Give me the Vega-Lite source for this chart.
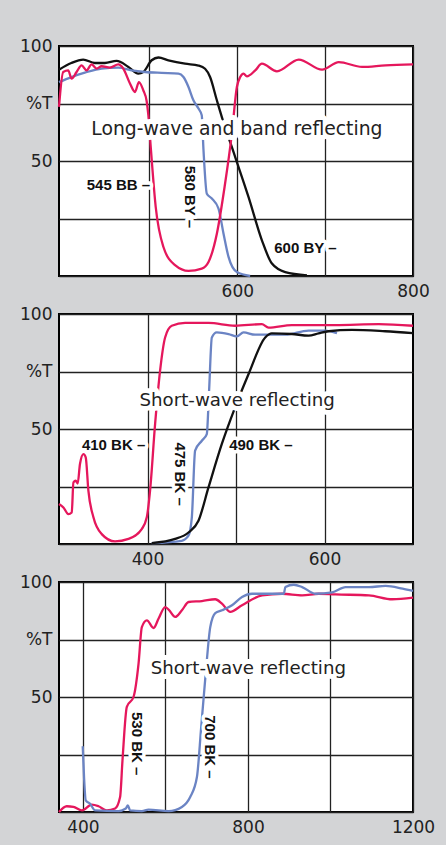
{
  "$schema": "https://vega.github.io/schema/vega-lite/v6.json",
  "background": "#d3d4d6",
  "padding": {"left": 18, "top": 36, "right": 19, "bottom": 9},
  "spacing": 38,
  "bounds": "flush",
  "config": {
    "view": {"stroke": "#000", "strokeWidth": 2, "fill": "white"},
    "axis": {"grid": true, "gridColor": "#222", "gridWidth": 1.3, "gridOpacity": 1, "domain": false, "ticks": false, "labelFont": "DejaVu Sans", "labelFontSize": 17, "labelColor": "#222", "labelPadding": 7, "title": null, "format": "d"},
    "axisX": {"labelFlush": false, "labelOverlap": false},
    "axisY": {"labelOverlap": false},
    "line": {"strokeWidth": 2.3, "interpolate": "monotone"}
  },
  "datasets": {
    "p1": [
      {"nm": 397, "t": 89.7, "s": "600 BY"}, {"nm": 411, "t": 92.6, "s": "600 BY"}, {"nm": 424.6, "t": 94.1, "s": "600 BY"}, {"nm": 437.8, "t": 92.6, "s": "600 BY"}, {"nm": 449.2, "t": 92.6, "s": "600 BY"}, {"nm": 462.6, "t": 93.5, "s": "600 BY"}, {"nm": 476, "t": 90.9, "s": "600 BY"}, {"nm": 487.3, "t": 88, "s": "600 BY"}, {"nm": 493, "t": 88.7, "s": "600 BY"}, {"nm": 502.5, "t": 93.8, "s": "600 BY"}, {"nm": 510.2, "t": 95, "s": "600 BY"}, {"nm": 521.5, "t": 93.8, "s": "600 BY"}, {"nm": 540.5, "t": 92.3, "s": "600 BY"}, {"nm": 555.8, "t": 91.5, "s": "600 BY"}, {"nm": 563.3, "t": 90.1, "s": "600 BY"}, {"nm": 569, "t": 86.5, "s": "600 BY"}, {"nm": 576.7, "t": 76.4, "s": "600 BY"}, {"nm": 582.4, "t": 69.1, "s": "600 BY"}, {"nm": 597.6, "t": 51.7, "s": "600 BY"}, {"nm": 612.8, "t": 34.3, "s": "600 BY"}, {"nm": 628, "t": 15.5, "s": "600 BY"}, {"nm": 639.4, "t": 5.4, "s": "600 BY"}, {"nm": 654.6, "t": 1.7, "s": "600 BY"}, {"nm": 679.3, "t": 0.3, "s": "600 BY"},
      {"nm": 397, "t": 84.3, "s": "580 BY"}, {"nm": 411, "t": 86.5, "s": "580 BY"}, {"nm": 426.4, "t": 88.4, "s": "580 BY"}, {"nm": 445.5, "t": 90.2, "s": "580 BY"}, {"nm": 464.5, "t": 90.6, "s": "580 BY"}, {"nm": 479.7, "t": 89.4, "s": "580 BY"}, {"nm": 494.9, "t": 88.7, "s": "580 BY"}, {"nm": 514, "t": 88.3, "s": "580 BY"}, {"nm": 533, "t": 88, "s": "580 BY"}, {"nm": 538.7, "t": 86.5, "s": "580 BY"}, {"nm": 544.4, "t": 82.2, "s": "580 BY"}, {"nm": 550, "t": 76.4, "s": "580 BY"}, {"nm": 555.8, "t": 72.8, "s": "580 BY"}, {"nm": 559.5, "t": 69.9, "s": "580 BY"}, {"nm": 561.5, "t": 54.7, "s": "580 BY"}, {"nm": 565.3, "t": 35.8, "s": "580 BY"}, {"nm": 571, "t": 33.7, "s": "580 BY"}, {"nm": 578.6, "t": 29.3, "s": "580 BY"}, {"nm": 584.3, "t": 18.4, "s": "580 BY"}, {"nm": 590, "t": 8.3, "s": "580 BY"}, {"nm": 599.5, "t": 1.7, "s": "580 BY"}, {"nm": 614.6, "t": 0, "s": "580 BY"},
      {"nm": 397, "t": 73.5, "s": "545 BB"}, {"nm": 401.8, "t": 88.7, "s": "545 BB"}, {"nm": 407.5, "t": 89.4, "s": "545 BB"}, {"nm": 411.3, "t": 85.8, "s": "545 BB"}, {"nm": 417, "t": 88.7, "s": "545 BB"}, {"nm": 422.7, "t": 91.6, "s": "545 BB"}, {"nm": 428.4, "t": 89.4, "s": "545 BB"}, {"nm": 434.1, "t": 92, "s": "545 BB"}, {"nm": 439.8, "t": 90.2, "s": "545 BB"}, {"nm": 445.5, "t": 91.2, "s": "545 BB"}, {"nm": 455, "t": 90.6, "s": "545 BB"}, {"nm": 464.5, "t": 92, "s": "545 BB"}, {"nm": 470.2, "t": 90.2, "s": "545 BB"}, {"nm": 477.8, "t": 83.7, "s": "545 BB"}, {"nm": 483.5, "t": 80, "s": "545 BB"}, {"nm": 488, "t": 84.3, "s": "545 BB"}, {"nm": 493, "t": 80.7, "s": "545 BB"}, {"nm": 496.8, "t": 76, "s": "545 BB"}, {"nm": 498.7, "t": 70, "s": "545 BB"}, {"nm": 501.7, "t": 54.7, "s": "545 BB"}, {"nm": 507.1, "t": 30, "s": "545 BB"}, {"nm": 515.9, "t": 12.6, "s": "545 BB"}, {"nm": 529.1, "t": 4.7, "s": "545 BB"}, {"nm": 544.4, "t": 2.2, "s": "545 BB"}, {"nm": 559.5, "t": 3.2, "s": "545 BB"}, {"nm": 567.2, "t": 6.1, "s": "545 BB"}, {"nm": 576.7, "t": 18.4, "s": "545 BB"}, {"nm": 585.5, "t": 38.7, "s": "545 BB"}, {"nm": 593.8, "t": 61.9, "s": "545 BB"}, {"nm": 599.5, "t": 82.2, "s": "545 BB"}, {"nm": 603.3, "t": 86.5, "s": "545 BB"}, {"nm": 607.1, "t": 88, "s": "545 BB"}, {"nm": 610.9, "t": 86.8, "s": "545 BB"}, {"nm": 620.4, "t": 89.4, "s": "545 BB"}, {"nm": 628, "t": 92.3, "s": "545 BB"}, {"nm": 645.1, "t": 89, "s": "545 BB"}, {"nm": 669.9, "t": 94.1, "s": "545 BB"}, {"nm": 696.5, "t": 89.7, "s": "545 BB"}, {"nm": 715.5, "t": 93, "s": "545 BB"}, {"nm": 742, "t": 90.9, "s": "545 BB"}, {"nm": 768.7, "t": 91.6, "s": "545 BB"}, {"nm": 800, "t": 92, "s": "545 BB"}
    ],
    "p2": [
      {"nm": 300, "t": 17.4, "s": "410 BK"}, {"nm": 305, "t": 15.9, "s": "410 BK"}, {"nm": 310.6, "t": 13.0, "s": "410 BK"}, {"nm": 314.4, "t": 13.7, "s": "410 BK"}, {"nm": 316.3, "t": 26.8, "s": "410 BK"}, {"nm": 318.9, "t": 27.5, "s": "410 BK"}, {"nm": 321.1, "t": 26.3, "s": "410 BK"}, {"nm": 323.7, "t": 34.8, "s": "410 BK"}, {"nm": 327.6, "t": 39.1, "s": "410 BK"}, {"nm": 330.2, "t": 37.7, "s": "410 BK"}, {"nm": 333.2, "t": 23.2, "s": "410 BK"}, {"nm": 338.9, "t": 11.6, "s": "410 BK"}, {"nm": 348.3, "t": 4.3, "s": "410 BK"}, {"nm": 363.3, "t": 1.1, "s": "410 BK"}, {"nm": 378.5, "t": 2.2, "s": "410 BK"}, {"nm": 393.5, "t": 6.5, "s": "410 BK"}, {"nm": 399.2, "t": 11.6, "s": "410 BK"}, {"nm": 402.9, "t": 23.2, "s": "410 BK"}, {"nm": 408.6, "t": 52.2, "s": "410 BK"}, {"nm": 414.2, "t": 75.3, "s": "410 BK"}, {"nm": 419.9, "t": 89.8, "s": "410 BK"}, {"nm": 427.4, "t": 94.9, "s": "410 BK"}, {"nm": 442.5, "t": 96.1, "s": "410 BK"}, {"nm": 468.9, "t": 96.1, "s": "410 BK"}, {"nm": 499, "t": 94.9, "s": "410 BK"}, {"nm": 529.2, "t": 95.6, "s": "410 BK"}, {"nm": 536.8, "t": 94.1, "s": "410 BK"}, {"nm": 563.2, "t": 95.2, "s": "410 BK"}, {"nm": 612.1, "t": 95.2, "s": "410 BK"}, {"nm": 661.2, "t": 95.6, "s": "410 BK"}, {"nm": 700, "t": 94.9, "s": "410 BK"},
      {"nm": 404.8, "t": 0.4, "s": "475 BK"}, {"nm": 438.7, "t": 1.4, "s": "475 BK"}, {"nm": 446.3, "t": 3.6, "s": "475 BK"}, {"nm": 450.1, "t": 11.6, "s": "475 BK"}, {"nm": 453.8, "t": 40.6, "s": "475 BK"}, {"nm": 461.4, "t": 44.9, "s": "475 BK"}, {"nm": 467, "t": 47.8, "s": "475 BK"}, {"nm": 469.6, "t": 66.7, "s": "475 BK"}, {"nm": 472.7, "t": 89.8, "s": "475 BK"}, {"nm": 478.3, "t": 92, "s": "475 BK"}, {"nm": 491.6, "t": 91.3, "s": "475 BK"}, {"nm": 501, "t": 90.3, "s": "475 BK"}, {"nm": 508.5, "t": 92, "s": "475 BK"}, {"nm": 521.6, "t": 91, "s": "475 BK"}, {"nm": 555.6, "t": 91, "s": "475 BK"}, {"nm": 582, "t": 92.8, "s": "475 BK"}, {"nm": 600.8, "t": 92.8, "s": "475 BK"}, {"nm": 614.1, "t": 91.7, "s": "475 BK"},
      {"nm": 404.8, "t": 0.4, "s": "490 BK"}, {"nm": 431.2, "t": 2.2, "s": "490 BK"}, {"nm": 446.3, "t": 5, "s": "490 BK"}, {"nm": 457.6, "t": 10.1, "s": "490 BK"}, {"nm": 468.9, "t": 24.6, "s": "490 BK"}, {"nm": 484, "t": 43.5, "s": "490 BK"}, {"nm": 499, "t": 59.4, "s": "490 BK"}, {"nm": 514.2, "t": 73.9, "s": "490 BK"}, {"nm": 533, "t": 89.8, "s": "490 BK"}, {"nm": 540.5, "t": 91.6, "s": "490 BK"}, {"nm": 563.2, "t": 91.3, "s": "490 BK"}, {"nm": 582, "t": 90.6, "s": "490 BK"}, {"nm": 593.3, "t": 91.6, "s": "490 BK"}, {"nm": 604.6, "t": 92.5, "s": "490 BK"}, {"nm": 631, "t": 93.1, "s": "490 BK"}, {"nm": 668.6, "t": 92.5, "s": "490 BK"}, {"nm": 700, "t": 91.7, "s": "490 BK"}
    ],
    "p3": [
      {"nm": 342, "t": 0, "s": "530 BK"}, {"nm": 360.7, "t": 2.5, "s": "530 BK"}, {"nm": 377, "t": 2.2, "s": "530 BK"}, {"nm": 397.1, "t": 0.7, "s": "530 BK"}, {"nm": 421.4, "t": 3.2, "s": "530 BK"}, {"nm": 437.7, "t": 2.5, "s": "530 BK"}, {"nm": 457.8, "t": 0.7, "s": "530 BK"}, {"nm": 478, "t": 1.5, "s": "530 BK"}, {"nm": 490.1, "t": 6.5, "s": "530 BK"}, {"nm": 495.9, "t": 22.5, "s": "530 BK"}, {"nm": 506.4, "t": 45.7, "s": "530 BK"}, {"nm": 522.6, "t": 50, "s": "530 BK"}, {"nm": 534.8, "t": 64.5, "s": "530 BK"}, {"nm": 542.8, "t": 80.4, "s": "530 BK"}, {"nm": 555, "t": 83.3, "s": "530 BK"}, {"nm": 571.2, "t": 80, "s": "530 BK"}, {"nm": 583.4, "t": 84.1, "s": "530 BK"}, {"nm": 599.3, "t": 89.1, "s": "530 BK"}, {"nm": 607.6, "t": 88, "s": "530 BK"}, {"nm": 623.6, "t": 84.8, "s": "530 BK"}, {"nm": 639.9, "t": 87.7, "s": "530 BK"}, {"nm": 656.2, "t": 91.3, "s": "530 BK"}, {"nm": 688.4, "t": 91.7, "s": "530 BK"}, {"nm": 720.7, "t": 92.5, "s": "530 BK"}, {"nm": 737, "t": 90.6, "s": "530 BK"}, {"nm": 757.2, "t": 87, "s": "530 BK"}, {"nm": 785.6, "t": 89.9, "s": "530 BK"}, {"nm": 834.2, "t": 94.2, "s": "530 BK"}, {"nm": 882.7, "t": 94.9, "s": "530 BK"}, {"nm": 931.3, "t": 94.2, "s": "530 BK"}, {"nm": 971.8, "t": 94.9, "s": "530 BK"}, {"nm": 1012.1, "t": 94.6, "s": "530 BK"}, {"nm": 1093.2, "t": 94.2, "s": "530 BK"}, {"nm": 1149.8, "t": 92.5, "s": "530 BK"}, {"nm": 1200, "t": 93.2, "s": "530 BK"},
      {"nm": 399.5, "t": 28.6, "s": "700 BK"}, {"nm": 402.7, "t": 15.2, "s": "700 BK"}, {"nm": 406.8, "t": 5.1, "s": "700 BK"}, {"nm": 417.3, "t": 3.6, "s": "700 BK"}, {"nm": 429.4, "t": 0.7, "s": "700 BK"}, {"nm": 486.2, "t": 0.4, "s": "700 BK"}, {"nm": 503.9, "t": 1.5, "s": "700 BK"}, {"nm": 508.8, "t": 2.9, "s": "700 BK"}, {"nm": 514.4, "t": 0.7, "s": "700 BK"}, {"nm": 542.8, "t": 0.4, "s": "700 BK"}, {"nm": 559, "t": 1, "s": "700 BK"}, {"nm": 607.6, "t": 0.4, "s": "700 BK"}, {"nm": 639.9, "t": 2.2, "s": "700 BK"}, {"nm": 660, "t": 6.5, "s": "700 BK"}, {"nm": 676.3, "t": 15.2, "s": "700 BK"}, {"nm": 686.7, "t": 37, "s": "700 BK"}, {"nm": 698.2, "t": 61.6, "s": "700 BK"}, {"nm": 708.6, "t": 80.4, "s": "700 BK"}, {"nm": 720.7, "t": 86.5, "s": "700 BK"}, {"nm": 737, "t": 87.7, "s": "700 BK"}, {"nm": 761.3, "t": 89.9, "s": "700 BK"}, {"nm": 785.6, "t": 93.5, "s": "700 BK"}, {"nm": 809.8, "t": 94.9, "s": "700 BK"}, {"nm": 850.4, "t": 94.9, "s": "700 BK"}, {"nm": 886.8, "t": 94.9, "s": "700 BK"}, {"nm": 890.7, "t": 97.8, "s": "700 BK"}, {"nm": 911.1, "t": 98.8, "s": "700 BK"}, {"nm": 931.3, "t": 97.8, "s": "700 BK"}, {"nm": 963.6, "t": 94.9, "s": "700 BK"}, {"nm": 1004.2, "t": 95.5, "s": "700 BK"}, {"nm": 1036.5, "t": 97.8, "s": "700 BK"}, {"nm": 1093.2, "t": 97.8, "s": "700 BK"}, {"nm": 1133.6, "t": 98.3, "s": "700 BK"}, {"nm": 1174.8, "t": 97.1, "s": "700 BK"}, {"nm": 1200, "t": 96.1, "s": "700 BK"}
    ],
    "t1": [{"nm": 599.5, "t": 64.1, "label": "Long-wave and band reflecting"}],
    "b1": [{"nm": 464.7, "t": 39.4, "label": "545 BB –"}, {"nm": 677.5, "t": 12, "label": "600 BY –"}],
    "r1": [{"nm": 545.9, "t": 34.4, "label": "580 BY –"}],
    "t2": [{"nm": 501.3, "t": 62.3, "label": "Short-wave reflecting"}],
    "b2": [{"nm": 361.7, "t": 43, "label": "410 BK –"}, {"nm": 528.1, "t": 43, "label": "490 BK –"}],
    "r2": [{"nm": 436.5, "t": 30.4, "label": "475 BK –"}],
    "t3": [{"nm": 800.8, "t": 62.3, "label": "Short-wave reflecting"}],
    "r3": [{"nm": 530.6, "t": 29.7, "label": "530 BK –"}, {"nm": 708.6, "t": 28.3, "label": "700 BK –"}]
  },
  "vconcat": [
    {
      "width": 354, "height": 230,
      "encoding": {
        "x": {"field": "nm", "type": "quantitative", "scale": {"domain": [397, 800], "nice": false, "zero": false}, "axis": {"values": [500, 600, 700, 800], "labelExpr": "datum.value == 600 || datum.value == 800 ? datum.label : ''"}},
        "y": {"field": "t", "type": "quantitative", "scale": {"domain": [0, 100], "nice": false}, "axis": {"values": [0, 25, 50, 75, 100], "labelExpr": "datum.value == 100 ? '100' : datum.value == 75 ? '%T' : datum.value == 50 ? '50' : ''"}}
      },
      "layer": [
        {"data": {"name": "p1"}, "mark": "line", "encoding": {"color": {"field": "s", "type": "nominal", "legend": null, "scale": {"domain": ["545 BB", "580 BY", "600 BY", "410 BK", "475 BK", "490 BK", "530 BK", "700 BK"], "range": ["#e5175c", "#6b84c4", "#111111", "#e5175c", "#6b84c4", "#111111", "#e5175c", "#6b84c4"]}}}},
        {"data": {"name": "t1"}, "mark": {"type": "text", "font": "DejaVu Sans", "fontSize": 18.8, "fill": "white", "stroke": "white", "strokeWidth": 10, "strokeJoin": "round"}, "encoding": {"text": {"field": "label"}}},
        {"data": {"name": "t1"}, "mark": {"type": "text", "font": "DejaVu Sans", "fontSize": 18.8, "color": "#222"}, "encoding": {"text": {"field": "label"}}},
        {"data": {"name": "b1"}, "mark": {"type": "text", "font": "Liberation Sans", "fontWeight": "bold", "fontSize": 15, "fill": "white", "stroke": "white", "strokeWidth": 7, "strokeJoin": "round"}, "encoding": {"text": {"field": "label"}}},
        {"data": {"name": "b1"}, "mark": {"type": "text", "font": "Liberation Sans", "fontWeight": "bold", "fontSize": 15, "color": "#111"}, "encoding": {"text": {"field": "label"}}},
        {"data": {"name": "r1"}, "mark": {"type": "text", "angle": 90, "font": "Liberation Sans", "fontWeight": "bold", "fontSize": 15, "fill": "white", "stroke": "white", "strokeWidth": 7, "strokeJoin": "round"}, "encoding": {"text": {"field": "label"}}},
        {"data": {"name": "r1"}, "mark": {"type": "text", "angle": 90, "font": "Liberation Sans", "fontWeight": "bold", "fontSize": 15, "color": "#111"}, "encoding": {"text": {"field": "label"}}}
      ]
    },
    {
      "width": 354, "height": 230,
      "encoding": {
        "x": {"field": "nm", "type": "quantitative", "scale": {"domain": [300, 700], "nice": false, "zero": false}, "axis": {"values": [400, 500, 600], "labelExpr": "datum.value == 400 || datum.value == 600 ? datum.label : ''"}},
        "y": {"field": "t", "type": "quantitative", "scale": {"domain": [0, 100], "nice": false}, "axis": {"values": [0, 25, 50, 75, 100], "labelExpr": "datum.value == 100 ? '100' : datum.value == 75 ? '%T' : datum.value == 50 ? '50' : ''"}}
      },
      "layer": [
        {"data": {"name": "p2"}, "mark": "line", "encoding": {"color": {"field": "s", "type": "nominal", "legend": null}}},
        {"data": {"name": "t2"}, "mark": {"type": "text", "font": "DejaVu Sans", "fontSize": 18.2, "fill": "white", "stroke": "white", "strokeWidth": 10, "strokeJoin": "round"}, "encoding": {"text": {"field": "label"}}},
        {"data": {"name": "t2"}, "mark": {"type": "text", "font": "DejaVu Sans", "fontSize": 18.2, "color": "#222"}, "encoding": {"text": {"field": "label"}}},
        {"data": {"name": "b2"}, "mark": {"type": "text", "font": "Liberation Sans", "fontWeight": "bold", "fontSize": 15, "fill": "white", "stroke": "white", "strokeWidth": 7, "strokeJoin": "round"}, "encoding": {"text": {"field": "label"}}},
        {"data": {"name": "b2"}, "mark": {"type": "text", "font": "Liberation Sans", "fontWeight": "bold", "fontSize": 15, "color": "#111"}, "encoding": {"text": {"field": "label"}}},
        {"data": {"name": "r2"}, "mark": {"type": "text", "angle": 90, "font": "Liberation Sans", "fontWeight": "bold", "fontSize": 15, "fill": "white", "stroke": "white", "strokeWidth": 7, "strokeJoin": "round"}, "encoding": {"text": {"field": "label"}}},
        {"data": {"name": "r2"}, "mark": {"type": "text", "angle": 90, "font": "Liberation Sans", "fontWeight": "bold", "fontSize": 15, "color": "#111"}, "encoding": {"text": {"field": "label"}}}
      ]
    },
    {
      "width": 354, "height": 230,
      "encoding": {
        "x": {"field": "nm", "type": "quantitative", "scale": {"domain": [342, 1200], "nice": false, "zero": false}, "axis": {"values": [400, 600, 800, 1000, 1200], "labelExpr": "datum.value == 600 || datum.value == 1000 ? '' : datum.label"}},
        "y": {"field": "t", "type": "quantitative", "scale": {"domain": [0, 100], "nice": false}, "axis": {"values": [0, 25, 50, 75, 100], "labelExpr": "datum.value == 100 ? '100' : datum.value == 75 ? '%T' : datum.value == 50 ? '50' : ''"}}
      },
      "layer": [
        {"data": {"name": "p3"}, "mark": "line", "encoding": {"color": {"field": "s", "type": "nominal", "legend": null}}},
        {"data": {"name": "t3"}, "mark": {"type": "text", "font": "DejaVu Sans", "fontSize": 18.2, "fill": "white", "stroke": "white", "strokeWidth": 10, "strokeJoin": "round"}, "encoding": {"text": {"field": "label"}}},
        {"data": {"name": "t3"}, "mark": {"type": "text", "font": "DejaVu Sans", "fontSize": 18.2, "color": "#222"}, "encoding": {"text": {"field": "label"}}},
        {"data": {"name": "r3"}, "mark": {"type": "text", "angle": 90, "font": "Liberation Sans", "fontWeight": "bold", "fontSize": 15, "fill": "white", "stroke": "white", "strokeWidth": 7, "strokeJoin": "round"}, "encoding": {"text": {"field": "label"}}},
        {"data": {"name": "r3"}, "mark": {"type": "text", "angle": 90, "font": "Liberation Sans", "fontWeight": "bold", "fontSize": 15, "color": "#111"}, "encoding": {"text": {"field": "label"}}}
      ]
    }
  ]
}
